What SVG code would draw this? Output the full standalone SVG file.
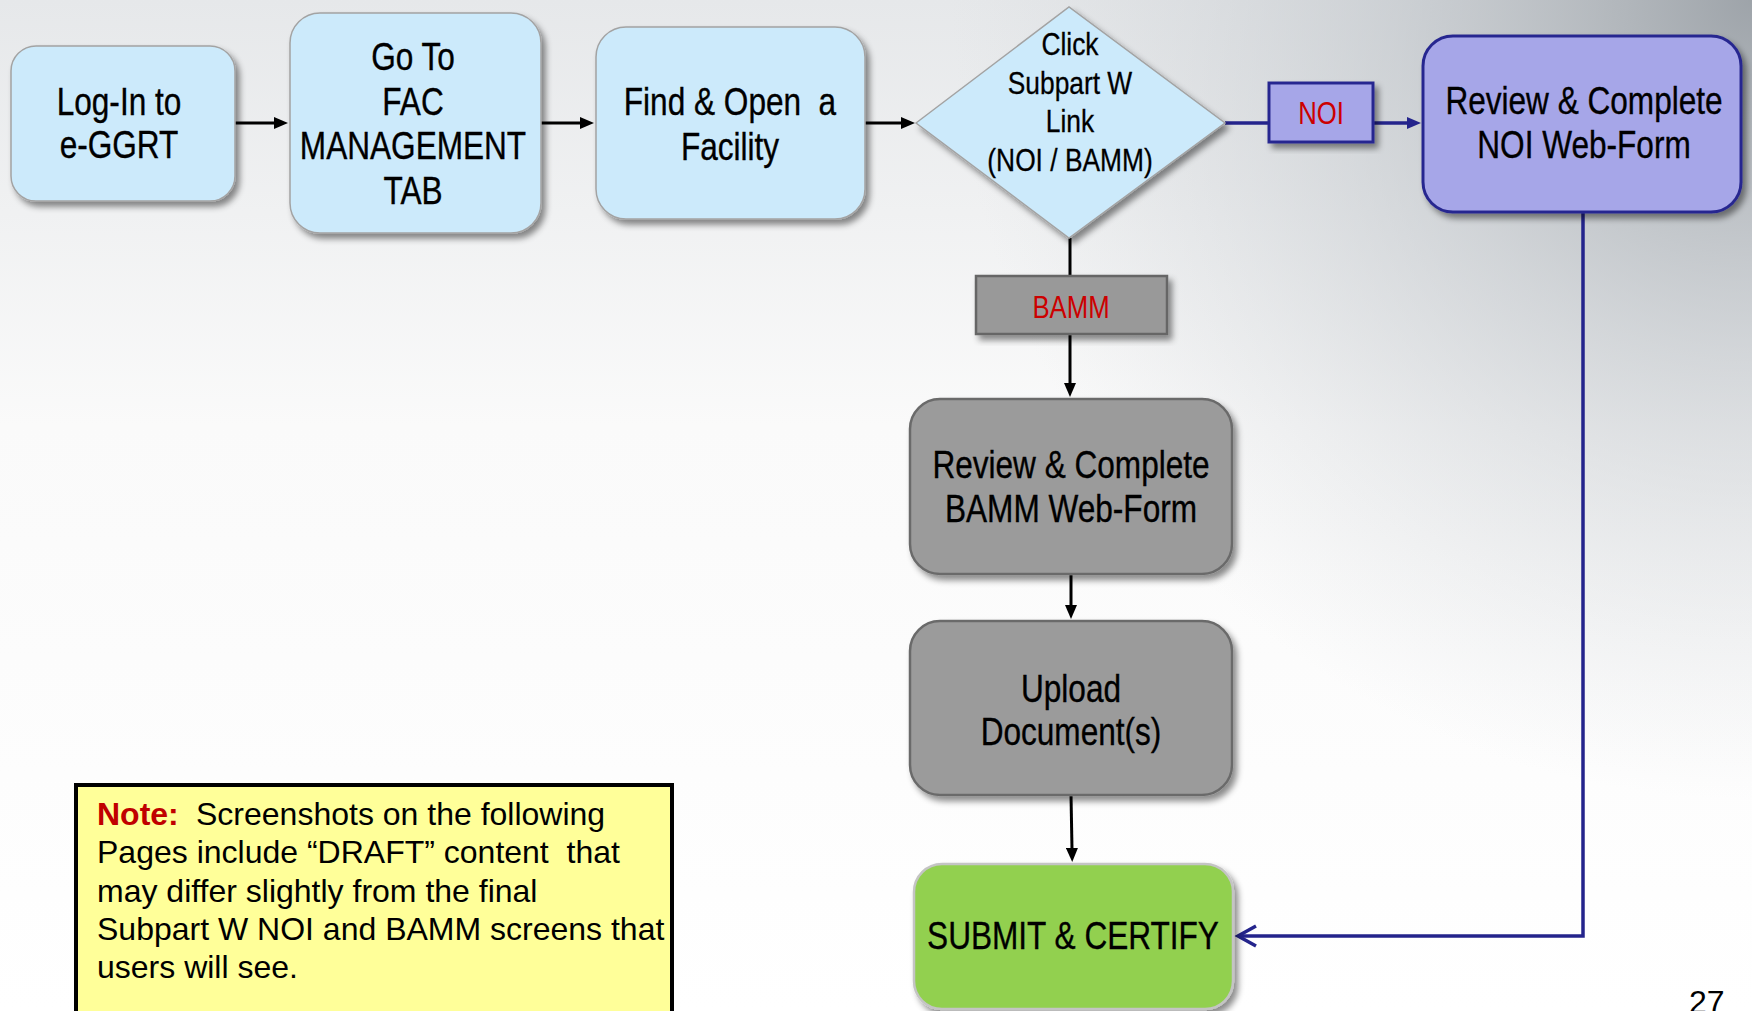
<svg xmlns="http://www.w3.org/2000/svg" width="1752" height="1011" viewBox="0 0 1752 1011">
<defs>
<linearGradient id="bg" x1="0" y1="0" x2="0" y2="1">
<stop offset="0" stop-color="#e6e8ea"/>
<stop offset="0.42" stop-color="#fafafa"/>
<stop offset="1" stop-color="#ffffff"/>
</linearGradient>
<radialGradient id="tr" cx="1752" cy="0" r="800" gradientUnits="userSpaceOnUse">
<stop offset="0" stop-color="#9aa0a6" stop-opacity="0.95"/>
<stop offset="0.45" stop-color="#bcc1c6" stop-opacity="0.6"/>
<stop offset="1" stop-color="#d0d4d8" stop-opacity="0"/>
</radialGradient>
<filter id="sh" x="-10%" y="-10%" width="130%" height="130%">
<feDropShadow dx="4" dy="5" stdDeviation="3" flood-color="#000" flood-opacity="0.45"/>
</filter>
<marker id="ab" viewBox="0 0 14 12" refX="1" refY="6" markerWidth="14" markerHeight="12" markerUnits="userSpaceOnUse" orient="auto">
<path d="M0,0 L14,6 L0,12 z" fill="#000"/>
</marker>
<marker id="an" viewBox="0 0 14 12" refX="1" refY="6" markerWidth="14" markerHeight="12" markerUnits="userSpaceOnUse" orient="auto">
<path d="M0,0 L14,6 L0,12 z" fill="#24248c"/>
</marker>
</defs>
<style>
.blue{fill:#cceafb;stroke:#a3a3a3;stroke-width:1.5}
.lav{fill:#a6a6e8;stroke:#282890;stroke-width:3}
.gray{fill:#9b9b9b;stroke:#6b6b6b;stroke-width:2.5}
.green{fill:#92d050;stroke:#c4c4c4;stroke-width:2.5}
.t{font-family:"Liberation Sans",Arial,sans-serif;font-size:39px;fill:#000;stroke:#000;stroke-width:0.35;text-anchor:middle}
.td{font-family:"Liberation Sans",Arial,sans-serif;font-size:31px;fill:#000;stroke:#000;stroke-width:0.3;text-anchor:middle}
.lbl{font-family:"Liberation Sans",Arial,sans-serif;font-size:31px;fill:#cc0000;text-anchor:middle}
.note{font-family:"Liberation Sans",Arial,sans-serif;font-size:32px;fill:#000;white-space:pre}
.bk{stroke:#000;stroke-width:3;fill:none}
.nv{stroke:#24248c;stroke-width:3.5;fill:none}
</style>
<rect x="0" y="0" width="1752" height="1011" fill="url(#bg)"/>
<rect x="0" y="0" width="1752" height="1011" fill="url(#tr)"/>

<g id="connectors">
<line class="bk" x1="235" y1="123" x2="275" y2="123" marker-end="url(#ab)"/>
<line class="bk" x1="541" y1="123" x2="581" y2="123" marker-end="url(#ab)"/>
<line class="bk" x1="865" y1="123" x2="902" y2="123" marker-end="url(#ab)"/>
<line class="bk" x1="1070" y1="238" x2="1070" y2="276"/>
<line class="bk" x1="1070" y1="334" x2="1070" y2="384" marker-end="url(#ab)"/>
<line class="bk" x1="1071" y1="574" x2="1071" y2="606" marker-end="url(#ab)"/>
<line class="bk" x1="1071" y1="795" x2="1072" y2="849" marker-end="url(#ab)"/>
<line class="nv" x1="1225" y1="123" x2="1269" y2="123"/>
<line class="nv" x1="1373" y1="123" x2="1408" y2="123" marker-end="url(#an)"/>
<polyline class="nv" points="1583,212 1583,936 1238,936"/>
<polyline class="nv" points="1256,926 1238,936 1256,946"/>
</g>

<g id="n-login">
<rect class="blue" x="11" y="46" width="224" height="155" rx="25" filter="url(#sh)"/>
<text class="t" transform="translate(119 0) scale(0.81 1)"><tspan x="0" y="115">Log-In to</tspan><tspan x="0" y="158">e-GGRT</tspan></text>
</g>

<g id="n-goto">
<rect class="blue" x="290" y="13" width="251" height="220" rx="30" filter="url(#sh)"/>
<text class="t" transform="translate(413 0) scale(0.81 1)"><tspan x="0" y="70">Go To</tspan><tspan x="0" y="115">FAC</tspan><tspan x="0" y="159">MANAGEMENT</tspan><tspan x="0" y="204">TAB</tspan></text>
</g>

<g id="n-find">
<rect class="blue" x="596" y="27" width="269" height="192" rx="30" filter="url(#sh)"/>
<text class="t" transform="translate(730 0) scale(0.81 1)" style="white-space:pre"><tspan x="0" y="115">Find &amp; Open  a</tspan><tspan x="0" y="160">Facility</tspan></text>
</g>

<g id="n-click">
<polygon class="blue" points="916,123 1069,7 1225,123 1069,238" filter="url(#sh)"/>
<text class="td" transform="translate(1070 0) scale(0.85 1)"><tspan x="0" y="55">Click</tspan><tspan x="0" y="94">Subpart W</tspan><tspan x="0" y="132">Link</tspan><tspan x="0" y="171">(NOI / BAMM)</tspan></text>
</g>

<g id="l-noi">
<rect class="lav" x="1269" y="83" width="104" height="59" filter="url(#sh)"/>
<text class="lbl" transform="translate(1321 0) scale(0.83 1)" x="0" y="124">NOI</text>
</g>

<g id="n-noi">
<rect class="lav" x="1423" y="36" width="318" height="176" rx="30" filter="url(#sh)"/>
<text class="t" transform="translate(1584 0) scale(0.81 1)"><tspan x="0" y="114">Review &amp; Complete</tspan><tspan x="0" y="158">NOI Web-Form</tspan></text>
</g>

<g id="l-bamm">
<rect x="976" y="276" width="191" height="58" fill="#999999" stroke="#666666" stroke-width="2.5" filter="url(#sh)"/>
<text class="lbl" transform="translate(1071 0) scale(0.83 1)" x="0" y="318">BAMM</text>
</g>

<g id="n-bamm">
<rect class="gray" x="910" y="399" width="322" height="175" rx="30" filter="url(#sh)"/>
<text class="t" transform="translate(1071 0) scale(0.81 1)"><tspan x="0" y="478">Review &amp; Complete</tspan><tspan x="0" y="522">BAMM Web-Form</tspan></text>
</g>

<g id="n-upload">
<rect class="gray" x="910" y="621" width="322" height="174" rx="30" filter="url(#sh)"/>
<text class="t" transform="translate(1071 0) scale(0.81 1)"><tspan x="0" y="702">Upload</tspan><tspan x="0" y="745">Document(s)</tspan></text>
</g>

<g id="n-submit">
<rect class="green" x="914" y="864" width="319" height="145" rx="28" filter="url(#sh)"/>
<text class="t" transform="translate(1073 0) scale(0.81 1)" x="0" y="949">SUBMIT &amp; CERTIFY</text>
</g>

<g id="note">
<rect x="76" y="785" width="596" height="240" fill="#ffff99" stroke="#000" stroke-width="4"/>
<text class="note"><tspan x="97" y="825" fill="#c00000" font-weight="bold">Note:</tspan><tspan x="196" y="825">Screenshots on the following</tspan><tspan x="97" y="863">Pages include “DRAFT” content  that</tspan><tspan x="97" y="902">may differ slightly from the final</tspan><tspan x="97" y="940">Subpart W NOI and BAMM screens that</tspan><tspan x="97" y="978">users will see.</tspan></text>
</g>

<text x="1689" y="1013" font-family="Liberation Sans, Arial, sans-serif" font-size="32" fill="#000">27</text>
</svg>
